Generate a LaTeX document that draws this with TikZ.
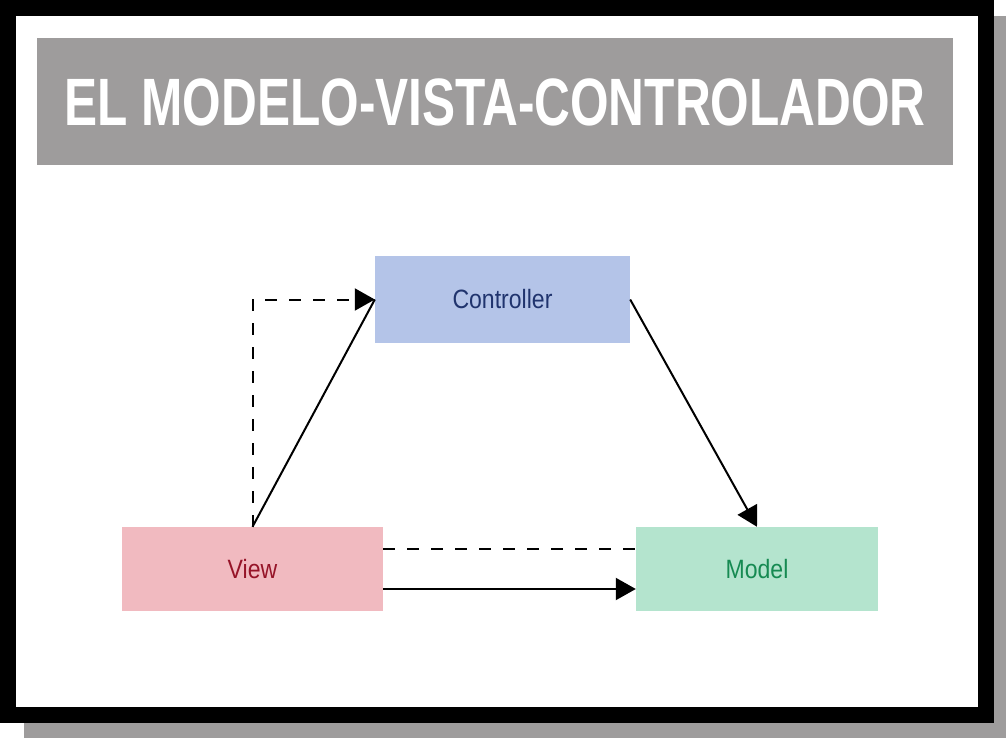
\documentclass[tikz,border=0pt]{standalone}
\usepackage{fontspec}
\usetikzlibrary{arrows.meta}
\newfontfamily\titlefont[FakeStretch=0.74]{Liberation Sans}
\newfontfamily\boxfont[FakeStretch=0.87]{Liberation Sans}

\definecolor{shadowgray}{RGB}{158,156,156}
\definecolor{ctrlfill}{RGB}{180,196,232}
\definecolor{ctrltext}{RGB}{32,52,110}
\definecolor{viewfill}{RGB}{241,186,192}
\definecolor{viewtext}{RGB}{150,20,40}
\definecolor{modelfill}{RGB}{180,228,206}
\definecolor{modeltext}{RGB}{22,138,82}

\tikzset{
  mvcbox/.style={minimum height=84pt, inner sep=0pt, font=\boxfont\fontsize{26.5}{30}\selectfont},
  link/.style={black, line width=2pt},
  dashlink/.style={link, dash pattern=on 12pt off 12pt},
  tip/.style={-{Triangle[length=20pt,width=22pt]}}
}

\begin{document}
\begin{tikzpicture}[x=1pt,y=-1pt]
            \useasboundingbox (0,0) rectangle (1006,738);

            % frame with shadow
            \fill[shadowgray] (24,16) rectangle (1006,738);
            \fill[black] (0,0) rectangle (994,723);
            \fill[white] (16,16) rectangle (978,707);

            % title bar
            \fill[shadowgray] (37,38) rectangle (953,165);
            \node[white, inner sep=0pt] (title) at (495,102)
              {\titlefont\bfseries\fontsize{67}{70}\selectfont EL MODELO-VISTA-CONTROLADOR};

            % the three parts
            \node[mvcbox, fill=ctrlfill, text=ctrltext, minimum width=255pt, minimum height=87pt] (ctrl) at (502.5,299.5) {Controller};
            \node[mvcbox, fill=viewfill, text=viewtext, minimum width=261pt] (view) at (252.5,569) {View};
            \node[mvcbox, fill=modelfill, text=modeltext, minimum width=242pt] (model) at (757,569) {Model};

            % connectors
            \draw[dashlink, tip] (view.north) |- (ctrl.west);
            \draw[link] (view.north) -- (ctrl.west);
            \draw[link, tip] (ctrl.east) -- (model.north);
            \draw[dashlink] ([yshift=20pt]view.east) -- ([yshift=20pt]model.west);
            \draw[link, tip] ([yshift=-20pt]view.east) -- ([yshift=-20pt]model.west);
        \end{tikzpicture}
\end{document}
